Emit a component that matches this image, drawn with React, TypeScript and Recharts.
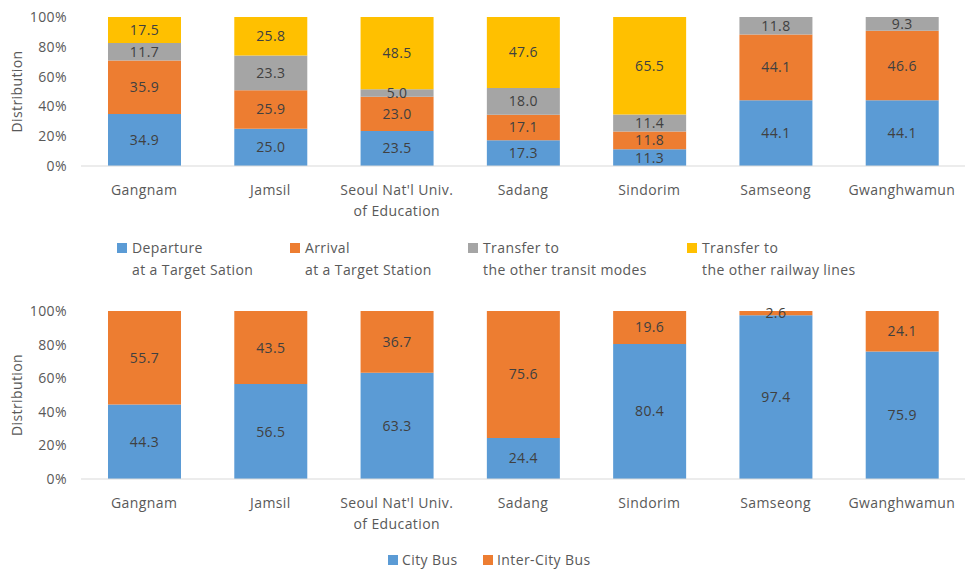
import React from 'react';
import { BarChart, Bar, XAxis, YAxis, LabelList, Legend } from 'recharts';

const stations = ['Gangnam', 'Jamsil', "Seoul Nat'l Univ.|of Education", 'Sadang', 'Sindorim', 'Samseong', 'Gwanghwamun'];
const departure = [34.9, 25.0, 23.5, 17.3, 11.3, 44.1, 44.1];
const arrival = [35.9, 25.9, 23.0, 17.1, 11.8, 44.1, 46.6];
const transitModes = [11.7, 23.3, 5.0, 18.0, 11.4, 11.8, 9.3];
const railwayLines = [17.5, 25.8, 48.5, 47.6, 65.5, 0, 0];
const cityBus = [44.3, 56.5, 63.3, 24.4, 80.4, 97.4, 75.9];
const interCityBus = [55.7, 43.5, 36.7, 75.6, 19.6, 2.6, 24.1];
const yTicks = [0, 20, 40, 60, 80, 100];

const topLegend = [
  { key: 'departure', l1: 'Departure', l2: 'at a Target Sation', color: '#5B9BD5' },
  { key: 'arrival', l1: 'Arrival', l2: 'at a Target Station', color: '#ED7D31' },
  { key: 'transit', l1: 'Transfer to', l2: 'the other transit modes', color: '#A5A5A5' },
  { key: 'railway', l1: 'Transfer to', l2: 'the other railway lines', color: '#FFC000' },
];
const bottomLegend = [
  { key: 'city', label: 'City Bus', color: '#5B9BD5' },
  { key: 'inter', label: 'Inter-City Bus', color: '#ED7D31' },
];

const topData = stations.map((s, i) => ({
  name: s,
  departure: departure[i],
  arrival: arrival[i],
  transit: transitModes[i],
  railway: railwayLines[i],
}));
const bottomData = stations.map((s, i) => ({ name: s, city: cityBus[i], inter: interCityBus[i] }));

const TEXT = '#595959';
const FONT = "'Open Sans', sans-serif";
const LS = '0.4px';

const CatTick = (props: any) => {
  const { x, y, payload } = props;
  const lines = String(payload.value).split('|');
  return (
    <g>
      {lines.map((ln, i) => (
        <text key={i} x={x} y={y + 23 + 21 * i} textAnchor="middle" dominantBaseline="central" fill={TEXT} fontSize={14} fontFamily={FONT} style={{ letterSpacing: LS }}>
          {ln}
        </text>
      ))}
    </g>
  );
};

const fmt = (v: any) => (v === 0 || v == null ? '' : Number(v).toFixed(1));

const YLabel = (props: any) => {
  const vb = props.viewBox || {};
  const cx = vb.x + 16;
  const cy = vb.y + vb.height / 2;
  return (
    <text x={cx} y={cy} transform={`rotate(-90, ${cx}, ${cy})`} textAnchor="middle" dominantBaseline="central" fill={TEXT} fontSize={14} fontFamily={FONT} style={{ letterSpacing: LS }}>
      Distribution
    </text>
  );
};

const TopLegendContent = () => {
  const xs = [117, 290, 468, 687];
  return (
    <div style={{ position: 'relative', width: 965, height: 0 }}>
      {topLegend.map((it, i) => (
        <div key={it.key} style={{ position: 'absolute', left: xs[i], top: 0, fontFamily: FONT, fontSize: 14, letterSpacing: LS, color: TEXT, lineHeight: '22px', whiteSpace: 'nowrap' }}>
          <span style={{ position: 'absolute', left: 0, top: 6, width: 10, height: 10, background: it.color }} />
          <div style={{ paddingLeft: 15 }}>{it.l1}</div>
          <div style={{ paddingLeft: 15 }}>{it.l2}</div>
        </div>
      ))}
    </div>
  );
};

const BottomLegendContent = () => {
  const xs = [388, 483];
  return (
    <div style={{ position: 'relative', width: 965, height: 0 }}>
      {bottomLegend.map((it, i) => (
        <div key={it.key} style={{ position: 'absolute', left: xs[i], top: 0, fontFamily: FONT, fontSize: 14, letterSpacing: LS, color: TEXT, lineHeight: '18px', whiteSpace: 'nowrap' }}>
          <span style={{ position: 'absolute', left: 0, top: 4, width: 10, height: 10, background: it.color }} />
          <div style={{ paddingLeft: 14 }}>{it.label}</div>
        </div>
      ))}
    </div>
  );
};

const labelStyle = { fill: '#404040', fontSize: 14, fontFamily: FONT, letterSpacing: LS };

export default function App() {
  return (
    <div style={{ position: 'absolute', left: 0, top: 0, width: 965, height: 569, background: '#fff', fontFamily: FONT, overflow: 'hidden' }}>
      <div style={{ position: 'absolute', left: 0, top: 0 }}>
        <BarChart width={965} height={290} data={topData} margin={{ top: 17, right: 0, bottom: 64, left: 0 }} barSize={73}>
          <XAxis dataKey="name" interval={0} tickLine={false} axisLine={{ stroke: '#D9D9D9' }} tick={<CatTick />} tickSize={0} tickMargin={0} height={60} />
          <YAxis width={81} domain={[0, 100]} ticks={yTicks} interval={0} tickFormatter={(v: number) => `${v}%`} axisLine={false} tickLine={false} tickSize={0} tickMargin={14} tick={{ fill: TEXT, fontSize: 14, fontFamily: FONT, letterSpacing: LS }} label={<YLabel />} />
          <Legend content={<TopLegendContent />} wrapperStyle={{ position: 'absolute', left: 0, top: 237, width: 965, height: 0, bottom: 'auto' }} />
          <Bar dataKey="departure" stackId="a" fill="#5B9BD5" isAnimationActive={false}>
            <LabelList dataKey="departure" position="center" formatter={fmt} style={labelStyle} />
          </Bar>
          <Bar dataKey="arrival" stackId="a" fill="#ED7D31" isAnimationActive={false}>
            <LabelList dataKey="arrival" position="center" formatter={fmt} style={labelStyle} />
          </Bar>
          <Bar dataKey="transit" stackId="a" fill="#A5A5A5" isAnimationActive={false}>
            <LabelList dataKey="transit" position="center" formatter={fmt} style={labelStyle} />
          </Bar>
          <Bar dataKey="railway" stackId="a" fill="#FFC000" isAnimationActive={false}>
            <LabelList dataKey="railway" position="center" formatter={fmt} style={labelStyle} />
          </Bar>
        </BarChart>
      </div>
      <div style={{ position: 'absolute', left: 0, top: 290 }}>
        <BarChart width={965} height={279} data={bottomData} margin={{ top: 21, right: 0, bottom: 30, left: 0 }} barSize={73}>
          <XAxis dataKey="name" interval={0} tickLine={false} axisLine={{ stroke: '#D9D9D9' }} tick={<CatTick />} tickSize={0} tickMargin={0} height={60} />
          <YAxis width={81} domain={[0, 100]} ticks={yTicks} interval={0} tickFormatter={(v: number) => `${v}%`} axisLine={false} tickLine={false} tickSize={0} tickMargin={14} tick={{ fill: TEXT, fontSize: 14, fontFamily: FONT, letterSpacing: LS }} label={<YLabel />} />
          <Legend content={<BottomLegendContent />} wrapperStyle={{ position: 'absolute', left: 0, top: 261, width: 965, height: 0, bottom: 'auto' }} />
          <Bar dataKey="city" stackId="b" fill="#5B9BD5" isAnimationActive={false}>
            <LabelList dataKey="city" position="center" formatter={fmt} style={labelStyle} />
          </Bar>
          <Bar dataKey="inter" stackId="b" fill="#ED7D31" isAnimationActive={false}>
            <LabelList dataKey="inter" position="center" formatter={fmt} style={labelStyle} />
          </Bar>
        </BarChart>
      </div>
    </div>
  );
}
